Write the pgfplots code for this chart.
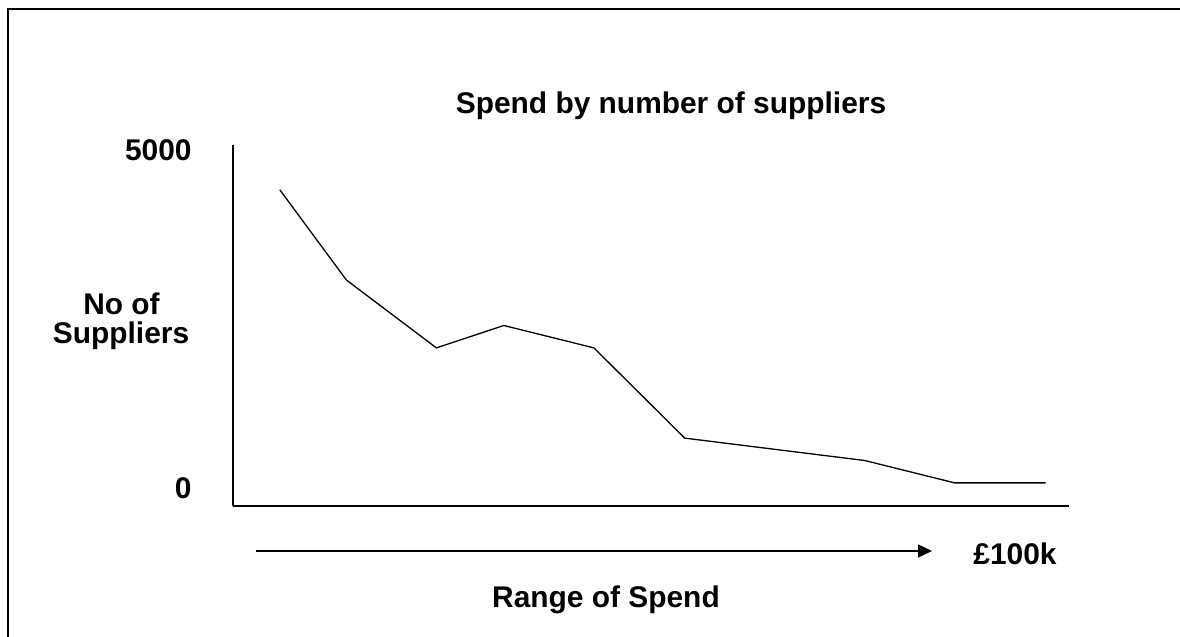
\documentclass[border=0pt]{standalone}
\usepackage{pgfplots}
\pgfplotsset{compat=1.18}
\usepackage{fontspec}
\setmainfont{Liberation Sans}
\usetikzlibrary{arrows.meta}

\pgfplotstableread{
x     y
0.52  4380
1.26  3130
2.26  2190
3.01  2500
4.01  2190
5.02  940
7.02  630
8.02  320
9.03  320
}\spenddata

\begin{document}
\begin{tikzpicture}[x=0.5pt,y=0.5pt,font=\fontsize{14.95}{17}\selectfont\bfseries]
\useasboundingbox (0,0) rectangle (1180,637);
% outer frame (left and top visible)
\draw[line width=1pt] (8,-5) -- (8,627.5) -- (1190,627.5);

\begin{axis}[
  at={(116.5pt,65.5pt)}, anchor=origin,
  scale only axis,
  width=418pt, height=180.5pt,
  xmin=0, xmax=9.29, ymin=0, ymax=5000,
  axis x line=bottom, axis y line=left,
  axis line style={-, line width=0.65pt, black},
  xtick=\empty, ytick=\empty,
  clip=false,
]
\addplot[black, line width=0.65pt, mark=none] table[x=x,y=y] {\spenddata};
\end{axis}

% texts
\node[anchor=base] at (671,523) {Spend by number of suppliers};
\node[anchor=base east, inner sep=0pt] at (192,476) {5000};
\node[anchor=base east, inner sep=0pt] at (192,138) {0};
\node[anchor=base, inner sep=0pt] at (121.5,322) {No of};
\node[anchor=base, inner sep=0pt] at (121,293) {Suppliers};
\node[anchor=base, inner sep=0pt] at (606,29) {Range of Spend};
\node[anchor=base, inner sep=0pt] at (1015,72) {\pounds 100k};
% range arrow
\draw[line width=0.7pt, -{Triangle[length=7pt,width=6.5pt]}] (256,86) -- (932,86);
\end{tikzpicture}
\end{document}
